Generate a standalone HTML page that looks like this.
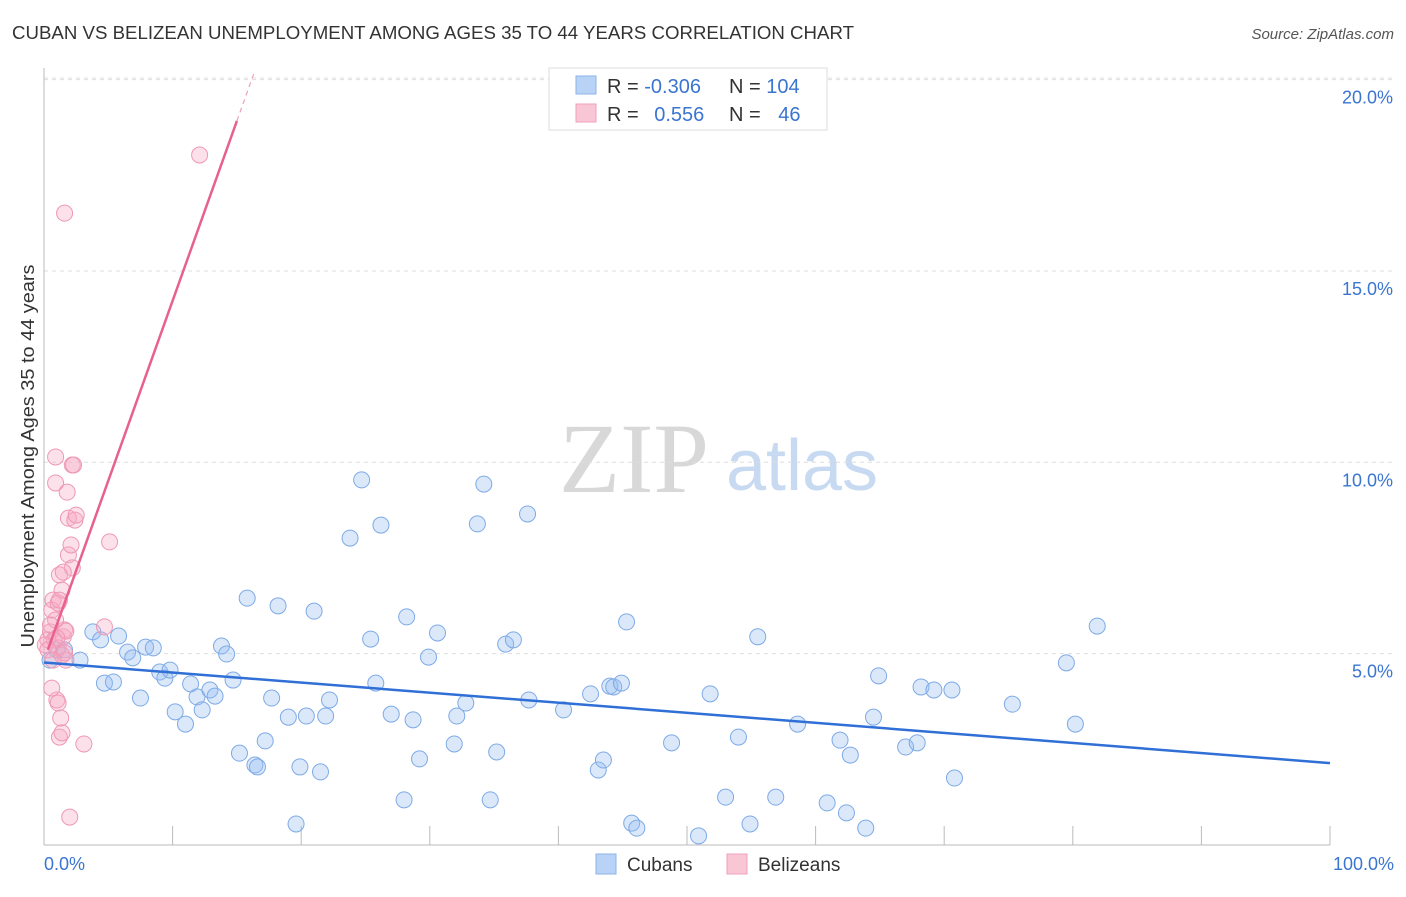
<!DOCTYPE html>
<html><head><meta charset="utf-8"><style>
body{margin:0;background:#fff;font-family:"Liberation Sans",sans-serif;}
</style></head><body>
<svg id="chart" width="1406" height="892" xmlns="http://www.w3.org/2000/svg" font-family="Liberation Sans, sans-serif">
<text x="12" y="39" font-size="18" fill="#333" textLength="842" lengthAdjust="spacingAndGlyphs">CUBAN VS BELIZEAN UNEMPLOYMENT AMONG AGES 35 TO 44 YEARS CORRELATION CHART</text>
<text x="1394" y="39" font-size="15" fill="#555" text-anchor="end" font-style="italic">Source: ZipAtlas.com</text>
<g>
<text x="634" y="492" font-size="100" fill="#d8d8d8" text-anchor="middle" style="font-family:'Liberation Serif',serif">ZIP</text>
<text x="802" y="490" font-size="72" fill="#c8daf2" text-anchor="middle">atlas</text>
</g>
<g id="grid"></g>
<g id="axes"></g>
<g id="pts"></g>
<g id="lines"></g>
<text transform="translate(34,456) rotate(-90)" font-size="18" fill="#333" text-anchor="middle" textLength="383" lengthAdjust="spacingAndGlyphs">Unemployment Among Ages 35 to 44 years</text>
<g>
<rect x="549" y="68" width="278" height="62" fill="#fff" stroke="#ddd"/>
<rect x="576" y="76" width="20" height="18" fill="#b9d3f6" stroke="#8ab4e8"/>
<rect x="576" y="104" width="20" height="18" fill="#f9c6d6" stroke="#f0a0bb"/>
<text x="607" y="93" font-size="20" fill="#333">R = <tspan fill="#3a75d0">-0.306</tspan></text>
<text x="729" y="93" font-size="20" fill="#333">N = <tspan fill="#3a75d0">104</tspan></text>
<text x="607" y="121" font-size="20" fill="#333">R = <tspan fill="#3a75d0" dx="10">0.556</tspan></text>
<text x="729" y="121" font-size="20" fill="#333">N = <tspan fill="#3a75d0" dx="12">46</tspan></text>
</g>
<g>
<rect x="596" y="854" width="20" height="20" fill="#b9d3f6" stroke="#8ab4e8"/>
<text x="627" y="871" font-size="19" fill="#333">Cubans</text>
<rect x="727" y="854" width="20" height="20" fill="#f9c6d6" stroke="#f0a0bb"/>
<text x="758" y="871" font-size="19" fill="#333">Belizeans</text>
</g>
</svg>
<script>
const yTicks=[5,10,15,20];
const yTickLabels=["5.0%","10.0%","15.0%","20.0%"];
const xTickLabels=["0.0%","100.0%"];
const cubanX=[0.47,1.0,1.6,2.8,3.8,4.4,4.7,5.4,5.8,6.5,6.9,7.5,7.9,8.5,9.0,9.4,9.8,10.2,11.0,11.4,11.9,12.3,12.9,13.3,13.8,14.2,14.7,15.2,15.8,16.4,16.6,17.2,17.7,18.2,19.0,19.6,19.9,20.4,21.0,21.5,21.9,22.2,23.8,24.7,25.4,25.8,26.2,27.0,28.0,28.2,28.7,29.2,29.9,30.6,31.9,32.1,32.8,33.7,34.2,34.7,35.2,35.9,36.5,37.6,37.7,40.4,42.5,43.1,43.5,44.0,44.3,44.9,45.3,45.7,46.1,48.8,50.9,51.8,53.0,54.0,54.9,55.5,56.9,58.6,60.9,61.9,62.4,62.7,63.9,64.5,64.9,67.0,67.9,68.2,69.2,70.6,70.8,75.3,79.5,80.2,81.9];
const cubanY=[4.83,5.10,5.10,4.83,5.57,5.36,4.23,4.26,5.46,5.04,4.89,3.84,5.17,5.15,4.52,4.36,4.57,3.48,3.16,4.21,3.87,3.53,4.05,3.89,5.20,4.99,4.31,2.40,6.45,2.09,2.04,2.72,3.84,6.25,3.34,0.55,2.04,3.37,6.11,1.91,3.37,3.79,8.02,9.54,5.38,4.23,8.36,3.42,1.18,5.96,3.27,2.25,4.91,5.54,2.64,3.37,3.71,8.39,9.43,1.18,2.43,5.25,5.36,8.65,3.79,3.53,3.95,1.96,2.22,4.15,4.13,4.23,5.83,0.57,0.44,2.67,0.24,3.95,1.25,2.82,0.55,5.44,1.25,3.16,1.10,2.74,0.84,2.35,0.44,3.34,4.42,2.56,2.67,4.13,4.05,4.05,1.75,3.68,4.76,3.16,5.72];
const belizeX=[0.3,0.5,0.6,0.7,0.9,0.9,1.0,1.1,1.2,1.3,1.4,1.5,1.6,1.6,1.7,1.9,1.8,2.0,2.2,2.3,1.9,2.1,2.2,1.2,1.4,2.4,2.5,1.1,3.1,4.7,5.1,12.1,0.6,0.8,1.1,1.4,0.9,0.5,1.7,1.2,1.5,1.0,1.6,0.1,0.3,0.7];
const belizeY=[5.36,5.57,6.14,6.40,9.46,10.14,3.79,3.71,2.82,3.32,2.93,5.44,16.51,5.62,5.59,8.54,9.22,0.73,9.93,9.93,7.58,7.84,7.24,7.06,6.66,8.49,8.62,6.32,2.64,5.70,7.92,18.03,4.10,5.36,5.15,4.96,5.88,5.75,4.83,6.40,7.13,5.41,5.02,5.23,5.10,4.83];
const cubanTrend=[4.77,2.14];      // y at x=0, y at x=100
const belizeTrend=[4.82,0.94];     // intercept, slope
const belizeSolidEnd=15.0, belizeDashEnd=16.3;

const NS="http://www.w3.org/2000/svg";
const X=v=>44+v*12.86, Y=v=>845-v*38.27;
function mk(tag,attrs,parent){const e=document.createElementNS(NS,tag);for(const k in attrs)e.setAttribute(k,attrs[k]);parent.appendChild(e);return e;}
const grid=document.getElementById('grid'),axes=document.getElementById('axes'),pts=document.getElementById('pts'),lines=document.getElementById('lines');
mk('line',{x1:44,x2:1394,y1:78,y2:78,stroke:'#ddd','stroke-dasharray':'4,4'},grid);
yTicks.forEach((t,i)=>{
 const g=mk('line',{x1:44,x2:1394,y1:Y(t),y2:Y(t),stroke:'#ddd','stroke-dasharray':'4,4'},grid);
 
 
 const tx=mk('text',{x:1393,y:Y(t)+24,'font-size':18,fill:'#3a75d0','text-anchor':'end'},axes);
 tx.textContent=yTickLabels[i];
 
 
});
mk('line',{x1:44,x2:44,y1:68,y2:845,stroke:'#bbb'},axes);
mk('line',{x1:44,x2:1330,y1:845,y2:845,stroke:'#bbb'},axes);
for(let i=1;i<=10;i++){const t=mk('line',{x1:X(i*10),x2:X(i*10),y1:826,y2:845,stroke:'#bbb'},axes);
 
 }
const l0=mk('text',{x:44,y:870,'font-size':18,fill:'#3a75d0'},axes);l0.textContent=xTickLabels[0];


const l1=mk('text',{x:1394,y:870,'font-size':18,fill:'#3a75d0','text-anchor':'end'},axes);l1.textContent=xTickLabels[1];


cubanX.forEach((x,i)=>{const c=mk('circle',{cx:X(x),cy:Y(cubanY[i]),r:8,fill:'rgba(150,188,240,0.35)',stroke:'#7eaae6','stroke-width':1},pts);
 
 });
belizeX.forEach((x,i)=>{const c=mk('circle',{cx:X(x),cy:Y(belizeY[i]),r:8,fill:'rgba(245,170,196,0.35)',stroke:'#ee98b5','stroke-width':1},pts);
 
 });
const cl=mk('line',{x1:X(0),y1:Y(cubanTrend[0]),x2:X(100),y2:Y(cubanTrend[1]),stroke:'#2f6fd6','stroke-width':2.5},lines);


const bf=x=>belizeTrend[0]+belizeTrend[1]*x;
const bl=mk('line',{x1:X(0.3),y1:Y(bf(0.3)),x2:X(belizeSolidEnd),y2:Y(bf(belizeSolidEnd)),stroke:'#e8608f','stroke-width':2.5},lines);


const bd=mk('line',{x1:X(belizeSolidEnd),y1:Y(bf(belizeSolidEnd)),x2:X(belizeDashEnd),y2:Y(bf(belizeDashEnd)),stroke:'#eea0bb','stroke-width':1.2,'stroke-dasharray':'5,4'},lines);


</script>
</body></html>
